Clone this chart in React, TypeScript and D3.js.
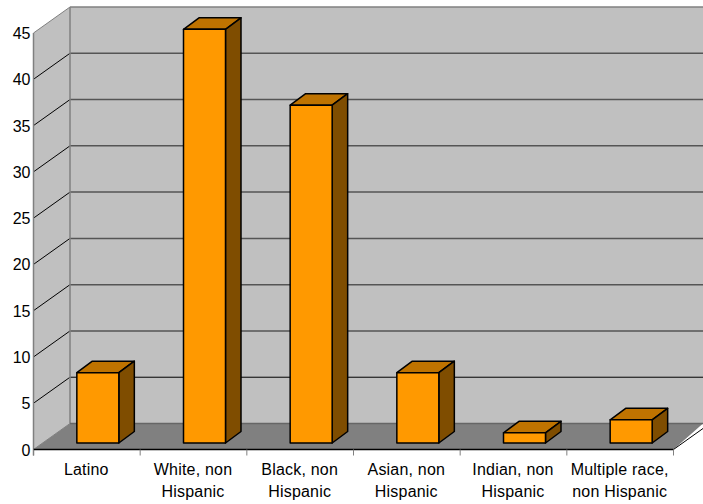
import React from "react";
import * as d3 from "d3";

const categories = [
  ["Latino"],
  ["White, non", "Hispanic"],
  ["Black, non", "Hispanic"],
  ["Asian, non", "Hispanic"],
  ["Indian, non", "Hispanic"],
  ["Multiple race,", "non Hispanic"],
];
const values = [7.6, 44.7, 36.5, 7.6, 1.1, 2.5];
const yTicks = [0, 5, 10, 15, 20, 25, 30, 35, 40, 45];

const width = 703;
const height = 504;
const frontLeft = 33.5;
const frontRight = 673.5;
const frontBase = 449.5;
const frontTop = 33;
// Offset of the back wall from the front plane of the box.
const depthX = 36.5;
const depthY = -26;
// Bars sit partway into the box and have a fixed extrusion.
const barInsetX = 11;
const barInsetY = -6.5;
const barDepthX = 15.5;
const barDepthY = -11.5;
const barWidth = 42;

const wallFill = "#c0c0c0";
const floorFill = "#808080";
const edgeGrey = "#808080";
const font = "'Liberation Sans', Arial, sans-serif";

const pts = (p: number[][]) => p.map((d) => d.join(",")).join(" ");

export default function App() {
  const y = d3.scaleLinear().domain([0, 45]).range([frontBase, frontTop]);
  const x = d3
    .scaleBand<number>()
    .domain(d3.range(categories.length))
    .range([frontLeft, frontRight]);
  const tickXs = d3.range(categories.length + 1).map((i) => frontLeft + i * x.step());

  return (
    <svg
      width={width}
      height={height}
      style={{ position: "absolute", left: 0, top: 0, background: "#fff" }}
      fontFamily={font}
    >
      {/* side wall, back wall and floor */}
      <polygon
        points={pts([
          [frontLeft, y(45)],
          [frontLeft + depthX, y(45) + depthY],
          [frontLeft + depthX, y(0) + depthY],
          [frontLeft, y(0)],
        ])}
        fill={wallFill}
      />
      <rect
        x={frontLeft + depthX}
        y={y(45) + depthY}
        width={width - frontLeft - depthX}
        height={y(0) - y(45)}
        fill={wallFill}
      />
      <polygon
        points={pts([
          [frontLeft, y(0)],
          [frontLeft + depthX, y(0) + depthY],
          [width, y(0) + depthY],
          [frontRight, y(0)],
        ])}
        fill={floorFill}
      />

      {/* gridlines across side and back walls */}
      {yTicks.slice(1).map((t) => {
        const yy = y(t);
        const top = t === 45;
        return (
          <g key={t}>
            <line
              x1={frontLeft}
              y1={yy}
              x2={frontLeft + depthX}
              y2={yy + depthY}
              stroke={top ? edgeGrey : "#000"}
              strokeWidth={1}
            />
            <line
              x1={frontLeft + depthX}
              y1={yy + depthY}
              x2={width}
              y2={yy + depthY}
              stroke={top ? edgeGrey : t === 5 ? "#000" : "#555"}
              strokeWidth={top ? 1.5 : t === 5 ? 1 : 1.5}
            />
          </g>
        );
      })}

      {/* box edges */}
      <line
        x1={frontLeft + depthX}
        y1={y(45) + depthY}
        x2={frontLeft + depthX}
        y2={y(0) + depthY}
        stroke={edgeGrey}
        strokeWidth={1.5}
      />
      <line
        x1={frontLeft + depthX}
        y1={y(0) + depthY}
        x2={width}
        y2={y(0) + depthY}
        stroke="#666"
        strokeWidth={1.5}
      />
      <line
        x1={frontLeft}
        y1={y(0)}
        x2={frontLeft + depthX}
        y2={y(0) + depthY}
        stroke={edgeGrey}
        strokeWidth={1}
      />
      <line
        x1={frontRight}
        y1={y(0)}
        x2={width}
        y2={y(0) + (depthY * (width - frontRight)) / depthX}
        stroke="#000"
        strokeWidth={1}
      />

      {/* bars: front, top and right faces */}
      {values.map((v, i) => {
        const cx = (x(i) as number) + x.step() / 2 + barInsetX;
        const x0 = cx - barWidth / 2;
        const x1 = cx + barWidth / 2;
        const b = y(0) + barInsetY;
        const t = y(v) + barInsetY;
        return (
          <g key={i} stroke="#000" strokeWidth={1.5} strokeLinejoin="round">
            <polygon
              points={pts([
                [x0, t],
                [x0 + barDepthX, t + barDepthY],
                [x1 + barDepthX, t + barDepthY],
                [x1, t],
              ])}
              fill="#bf7300"
            />
            <polygon
              points={pts([
                [x1, t],
                [x1 + barDepthX, t + barDepthY],
                [x1 + barDepthX, b + barDepthY],
                [x1, b],
              ])}
              fill="#7f4d00"
            />
            <rect x={x0} y={t} width={barWidth} height={b - t} fill="#ff9900" />
          </g>
        );
      })}

      {/* value axis */}
      <line x1={frontLeft} y1={y(45)} x2={frontLeft} y2={y(0) + 6} stroke={edgeGrey} strokeWidth={1.5} />
      {yTicks.map((t) => (
        <text key={t} x={30.5} y={y(t)} dy={6} textAnchor="end" fontSize={16} fill="#000">
          {t}
        </text>
      ))}

      {/* category axis */}
      <line x1={frontLeft} y1={y(0)} x2={frontRight} y2={y(0)} stroke="#000" strokeWidth={1.5} />
      {tickXs.map((tx) => (
        <line key={tx} x1={tx} y1={y(0)} x2={tx} y2={y(0) + 6} stroke={edgeGrey} strokeWidth={1} />
      ))}
      {categories.map((lines, i) =>
        lines.map((label, j) => (
          <text
            key={label}
            x={(x(i) as number) + x.step() / 2 - 0.5}
            y={475 + j * 22}
            textAnchor="middle"
            fontSize={16}
            letterSpacing={0.2}
            fill="#000"
          >
            {label}
          </text>
        ))
      )}
    </svg>
  );
}
